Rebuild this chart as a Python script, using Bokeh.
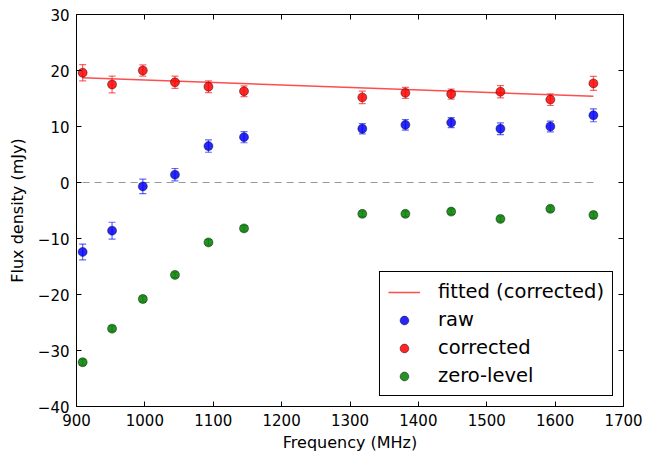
from bokeh.plotting import figure
from bokeh.models import (ColumnDataSource, Whisker, TeeHead, LinearAxis, FixedTicker,
                          CustomJSTickFormatter, Legend, LegendItem, Range1d)
from bokeh.embed import file_html
from bokeh.resources import INLINE

# ---- data ----
freq = [909, 952, 997, 1044, 1093, 1145, 1318, 1381, 1448, 1520, 1593, 1656]
raw = [-12.4, -8.6, -0.7, 1.4, 6.5, 8.1, 9.6, 10.3, 10.7, 9.6, 10.0, 12.0]
raw_err = [1.4, 1.5, 1.3, 1.1, 1.1, 1.0, 0.9, 0.95, 0.9, 1.05, 0.95, 1.15]
corrected = [19.6, 17.5, 20.0, 17.9, 17.1, 16.3, 15.2, 16.0, 15.8, 16.2, 14.8, 17.7]
corr_err = [1.45, 1.5, 1.0, 1.1, 1.05, 0.95, 1.1, 1.0, 0.9, 1.1, 1.05, 1.25]
zero_level = [-32.1, -26.1, -20.8, -16.5, -10.7, -8.2, -5.6, -5.6, -5.2, -6.5, -4.7, -5.8]
zero_err = [0.5, 0.5, 0.5, 0.5, 0.5, 0.5, 0.5, 0.5, 0.5, 0.5, 0.5, 0.5]
fit_freq = [909, 1656]
fit_vals = [18.7, 15.4]
zero_line_freq = [909, 1656]
zero_line_vals = [0, 0]
x_ticks = [900, 1000, 1100, 1200, 1300, 1400, 1500, 1600, 1700]
y_ticks = [-40, -30, -20, -10, 0, 10, 20, 30]

FONT = "DejaVu Sans"
TICK_FS = "15px"
LABEL_FS = "16px"
LEG_FS = "19.5px"

p = figure(frame_width=547, frame_height=392, output_backend="svg", toolbar_location=None,
           x_range=Range1d(900, 1700), y_range=Range1d(-40, 30),
           min_border_left=76, min_border_right=22, min_border_top=14, min_border_bottom=49)
p.xgrid.visible = False
p.ygrid.visible = False
p.outline_line_color = "black"
p.outline_line_width = 1
p.background_fill_color = "white"
p.border_fill_color = "white"

minus_fmt = CustomJSTickFormatter(code="return tick < 0 ? '\u2212' + Math.abs(tick) : '' + tick;")
blank_fmt = CustomJSTickFormatter(code="return '';")

for ax in (p.xaxis[0], p.yaxis[0]):
    ax.major_tick_in = 5
    ax.major_tick_out = 0
    ax.minor_tick_in = 0
    ax.minor_tick_out = 0
    ax.axis_line_color = None
    ax.major_label_text_font = FONT
    ax.major_label_text_font_size = TICK_FS
    ax.major_label_text_color = "black"
    ax.axis_label_text_font = FONT
    ax.axis_label_text_font_size = LABEL_FS
    ax.axis_label_text_font_style = "normal"
    ax.axis_label_text_color = "black"
    ax.major_label_standoff = 7
p.xaxis[0].ticker = FixedTicker(ticks=x_ticks)
p.yaxis[0].ticker = FixedTicker(ticks=y_ticks)
p.yaxis[0].formatter = minus_fmt
p.xaxis[0].axis_label = "Frequency (MHz)"
p.yaxis[0].axis_label = "Flux density (mJy)"
p.xaxis[0].axis_label_standoff = 4
p.yaxis[0].axis_label_standoff = 8

for loc, ticks in (("above", x_ticks), ("right", y_ticks)):
    ax = LinearAxis(ticker=FixedTicker(ticks=ticks), formatter=blank_fmt,
                    major_tick_in=5, major_tick_out=0,
                    minor_tick_in=0, minor_tick_out=0, axis_line_color=None,
                    major_label_text_font_size="1px", major_label_standoff=0)
    p.add_layout(ax, loc)

# zero reference line
p.line(zero_line_freq, zero_line_vals, line_color="#999999", line_dash="7 5", line_width=1)

# fitted line
fit_r = p.line(fit_freq, fit_vals, line_color="#ff2020", line_alpha=0.8, line_width=1.5)

series = [
    ("raw", raw, raw_err, "#0000ff"),
    ("corrected", corrected, corr_err, "#ff0000"),
    ("zero-level", zero_level, zero_err, "#007f00"),
]
items = [LegendItem(label="fitted (corrected)", renderers=[fit_r])]
for name, vals, errs, col in series:
    src = ColumnDataSource(dict(x=freq, y=vals,
                                lo=[v - e for v, e in zip(vals, errs)],
                                hi=[v + e for v, e in zip(vals, errs)]))
    w = Whisker(source=src, base="x", lower="lo", upper="hi",
                line_color=col, line_alpha=0.6, line_width=1.2,
                upper_head=TeeHead(size=7, line_color=col, line_alpha=0.6, line_width=1.2),
                lower_head=TeeHead(size=7, line_color=col, line_alpha=0.6, line_width=1.2))
    p.add_layout(w)
    r = p.scatter("x", "y", source=src, size=9, fill_color=col, fill_alpha=0.85,
                  line_color="black", line_alpha=0.6, line_width=0.7)
    items.append(LegendItem(label=name, renderers=[r]))

leg = Legend(items=items, location="bottom_right")
leg.label_text_font = FONT
leg.label_text_font_size = LEG_FS
leg.label_text_color = "black"
leg.border_line_color = "black"
leg.border_line_alpha = 1
leg.border_line_width = 1
leg.background_fill_alpha = 1
leg.padding = 8
leg.spacing = 5
leg.glyph_width = 32
leg.glyph_height = 22
leg.label_height = 22
leg.label_standoff = 18
leg.margin = 10
p.add_layout(leg)

open("out.html", "w").write(file_html(p, INLINE))
